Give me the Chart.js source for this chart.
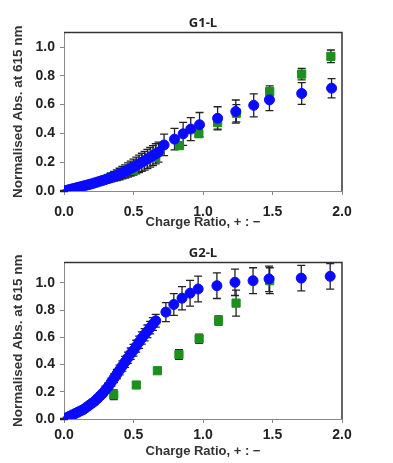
<!DOCTYPE html>
<html>
<head>
<meta charset="utf-8">
<script src="https://cdn.jsdelivr.net/npm/chart.js@4/dist/chart.umd.min.js"></script>
<style>
  body { margin: 0; background: #fff; }
  .box { position: relative; width: 393px; }
</style>
</head>
<body>
<div class="box" style="height:230px"><canvas id="chartG1"></canvas></div>
<div class="box" style="height:233px"><canvas id="chartG2"></canvas></div>
<script>
// G1-L, blue circles
var g1BlueX = [0.00, 0.02, 0.04, 0.06, 0.08, 0.10, 0.12, 0.14, 0.16, 0.18, 0.20, 0.22, 0.24, 0.26, 0.28, 0.30, 0.32, 0.34,
  0.36, 0.38, 0.40, 0.42, 0.44, 0.46, 0.48, 0.50, 0.52, 0.54, 0.56, 0.58, 0.60, 0.62, 0.64, 0.66, 0.68,
  0.72, 0.795, 0.857, 0.912, 0.975, 1.105, 1.236, 1.365, 1.478, 1.71, 1.925];
var g1BlueY = [0.000, 0.005, 0.010, 0.015, 0.020, 0.025, 0.030, 0.035, 0.040, 0.045, 0.050, 0.056, 0.062, 0.068, 0.074, 0.080, 0.087, 0.094,
  0.102, 0.110, 0.118, 0.127, 0.136, 0.146, 0.156, 0.166, 0.177, 0.188, 0.199, 0.210, 0.222, 0.234, 0.246, 0.258, 0.270,
  0.320, 0.360, 0.397, 0.430, 0.460, 0.505, 0.552, 0.595, 0.633, 0.677, 0.714];
var g1BlueErr = [0.002, 0.003, 0.004, 0.005, 0.006, 0.007, 0.008, 0.009, 0.010, 0.012, 0.014, 0.016, 0.018, 0.020, 0.022, 0.025, 0.028, 0.031,
  0.034, 0.037, 0.040, 0.043, 0.046, 0.049, 0.052, 0.055, 0.058, 0.061, 0.063, 0.065, 0.067, 0.068, 0.069, 0.070, 0.070,
  0.075, 0.075, 0.080, 0.080, 0.085, 0.080, 0.080, 0.080, 0.075, 0.075, 0.067];
// G1-L, green squares
var g1GreenX = [0.00, 0.34, 0.50, 0.66, 0.83, 0.97, 1.105, 1.24, 1.48, 1.71, 1.92];
var g1GreenY = [0.000, 0.100, 0.145, 0.235, 0.315, 0.398, 0.475, 0.540, 0.690, 0.812, 0.935];
var g1GreenErr = [0.005, 0.020, 0.020, 0.020, 0.020, 0.020, 0.045, 0.060, 0.040, 0.040, 0.044];

// G2-L, blue circles
var g2BlueX = [0.00, 0.02, 0.04, 0.06, 0.08, 0.10, 0.12, 0.14, 0.16, 0.18, 0.20, 0.22, 0.24, 0.26, 0.28, 0.30, 0.32, 0.34,
  0.36, 0.38, 0.40, 0.42, 0.44, 0.46, 0.48, 0.50, 0.52, 0.54, 0.56, 0.58, 0.60, 0.62, 0.64, 0.66,
  0.733, 0.79, 0.849, 0.907, 0.965, 1.10, 1.23, 1.36, 1.475, 1.707, 1.915];
var g2BlueY = [0.000, 0.010, 0.020, 0.030, 0.040, 0.050, 0.060, 0.070, 0.085, 0.100, 0.115, 0.130, 0.150, 0.170, 0.190, 0.215, 0.240, 0.270,
  0.300, 0.330, 0.360, 0.390, 0.420, 0.450, 0.480, 0.505, 0.535, 0.565, 0.595, 0.620, 0.645, 0.672, 0.698, 0.722,
  0.786, 0.842, 0.888, 0.925, 0.956, 0.980, 1.005, 1.017, 1.030, 1.036, 1.049];
var g2BlueErr = [0.003, 0.004, 0.005, 0.006, 0.007, 0.008, 0.009, 0.010, 0.012, 0.014, 0.016, 0.018, 0.020, 0.022, 0.024, 0.026, 0.028, 0.030,
  0.032, 0.034, 0.036, 0.038, 0.040, 0.041, 0.042, 0.043, 0.044, 0.045, 0.045, 0.045, 0.046, 0.046, 0.047, 0.047,
  0.070, 0.080, 0.085, 0.095, 0.095, 0.094, 0.097, 0.095, 0.094, 0.094, 0.094];
// G2-L, green squares
var g2GreenX = [0.00, 0.358, 0.52, 0.672, 0.827, 0.972, 1.112, 1.238, 1.48];
var g2GreenY = [0.000, 0.178, 0.250, 0.355, 0.474, 0.590, 0.725, 0.852, 1.017];
var g2GreenErr = [0.005, 0.036, 0.020, 0.020, 0.036, 0.034, 0.034, 0.095, 0.095];

var xTicks = [0, 0.5, 1.0, 1.5, 2.0];
var yTicks = [0, 0.2, 0.4, 0.6, 0.8, 1.0];

var BLUE = '#0a0aff';
var GREEN = '#1c901c';

function points(xs, ys) {
  return xs.map(function (x, i) { return { x: x, y: ys[i] }; });
}

// error bars drawn from the y scale, behind the markers
var errorBars = {
  id: 'errorBars',
  beforeDatasetsDraw: function (chart) {
    var ctx = chart.ctx;
    var yScale = chart.scales.y;
    ctx.save();
    ctx.strokeStyle = '#222';
    ctx.lineWidth = 1.3;
    chart.data.datasets.forEach(function (ds, di) {
      var meta = chart.getDatasetMeta(di);
      meta.data.forEach(function (pt, i) {
        var v = ds.data[i].y, e = ds.errors[i];
        var top = yScale.getPixelForValue(v + e);
        var bot = yScale.getPixelForValue(v - e);
        ctx.beginPath();
        ctx.moveTo(pt.x, top); ctx.lineTo(pt.x, bot);
        ctx.moveTo(pt.x - 4, top); ctx.lineTo(pt.x + 4, top);
        ctx.moveTo(pt.x - 4, bot); ctx.lineTo(pt.x + 4, bot);
        ctx.stroke();
      });
    });
    ctx.restore();
  },
  afterDraw: function (chart) {
    var a = chart.chartArea, ctx = chart.ctx;
    ctx.save();
    ctx.strokeStyle = '#333';
    ctx.lineWidth = 1.5;
    ctx.beginPath();
    ctx.moveTo(a.left, a.top); ctx.lineTo(a.right, a.top); ctx.lineTo(a.right, a.bottom);
    ctx.stroke();
    ctx.restore();
  }
};

function makeChart(id, title, blue, green, yMax, xHeight, xTickPad, xTitlePad) {
  return new Chart(document.getElementById(id), {
    type: 'scatter',
    data: {
      datasets: [{
        data: points(blue[0], blue[1]),
        errors: blue[2],
        backgroundColor: BLUE,
        borderColor: BLUE,
        pointRadius: 5,
        pointStyle: 'circle'
      }, {
        data: points(green[0], green[1]),
        errors: green[2],
        backgroundColor: GREEN,
        borderColor: GREEN,
        pointRadius: 5.8,
        pointStyle: 'rect'
      }]
    },
    options: {
      responsive: true,
      maintainAspectRatio: false,
      animation: false,
      layout: { padding: { left: 0, right: 51, top: 0, bottom: 0 } },
      plugins: {
        legend: { display: false },
        tooltip: { enabled: false },
        title: {
          display: true,
          text: title,
          fullSize: false,
          color: '#222',
          font: { family: 'Open Sans', size: 13, weight: 'bold' },
          padding: { top: 15, bottom: 2 }
        }
      },
      scales: {
        x: {
          type: 'linear',
          min: 0, max: 2,
          afterFit: function (s) { s.height = xHeight; },
          afterBuildTicks: function (s) { s.ticks = xTicks.map(function (v) { return { value: v }; }); },
          ticks: {
            padding: xTickPad,
            color: '#222',
            font: { family: 'Liberation Sans', size: 14, weight: 'bold' },
            callback: function (v) { return v.toFixed(1); }
          },
          grid: { drawOnChartArea: false, tickLength: 4, color: '#888' },
          border: { color: '#888', width: 1 },
          title: {
            display: true,
            text: 'Charge Ratio, + : \u2212',
            color: '#333',
            font: { family: 'Liberation Sans', size: 13, weight: 'bold' },
            padding: { top: 0, bottom: xTitlePad }
          }
        },
        y: {
          type: 'linear',
          min: 0, max: yMax,
          afterFit: function (s) { s.width = 64; },
          afterBuildTicks: function (s) { s.ticks = yTicks.map(function (v) { return { value: v }; }); },
          ticks: {
            padding: 5,
            color: '#222',
            font: { family: 'Liberation Sans', size: 14, weight: 'bold' },
            callback: function (v) { return v.toFixed(1); }
          },
          grid: { drawOnChartArea: false, tickLength: 4, color: '#888' },
          border: { color: '#888', width: 1 },
          title: {
            display: true,
            text: 'Normalised Abs. at 615 nm',
            color: '#333',
            font: { family: 'Liberation Sans', size: 13.5, weight: 'bold' },
            padding: { top: 10, bottom: 0 }
          }
        }
      }
    },
    plugins: [errorBars]
  });
}

makeChart('chartG1', 'G1-L', [g1BlueX, g1BlueY, g1BlueErr], [g1GreenX, g1GreenY, g1GreenErr], 1.1, 39, 9, 0);
makeChart('chartG2', 'G2-L', [g2BlueX, g2BlueY, g2BlueErr], [g2GreenX, g2GreenY, g2GreenErr], 1.15, 44, 4, 4);
</script>
</body>
</html>
